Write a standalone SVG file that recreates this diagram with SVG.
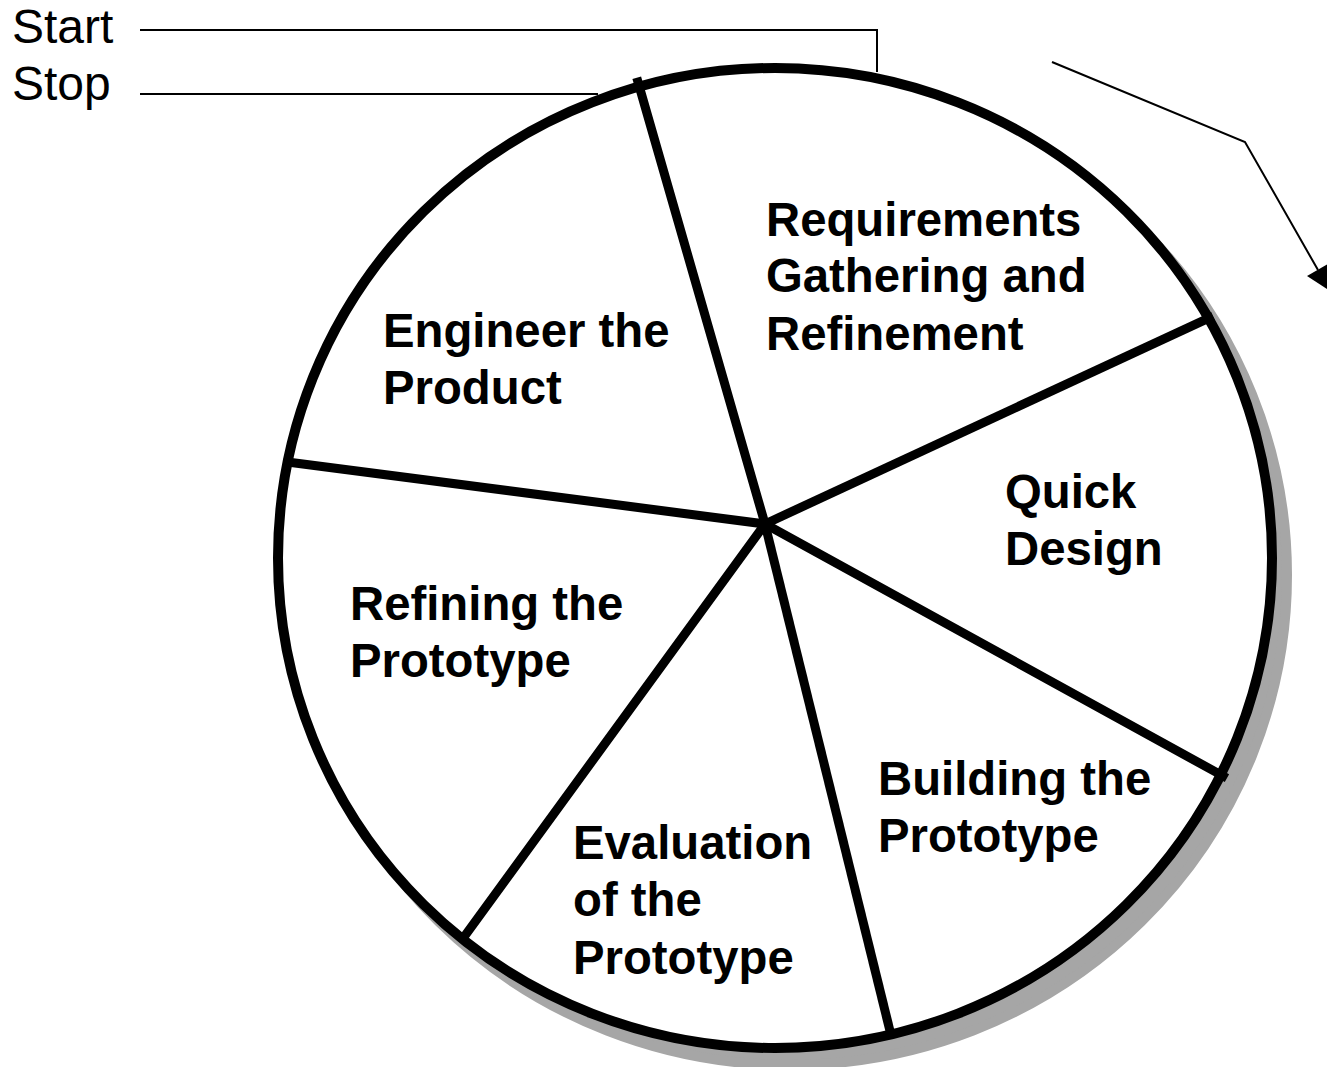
<svg xmlns="http://www.w3.org/2000/svg" width="1327" height="1067" viewBox="0 0 1327 1067">
<defs>
<style>
.lbl{font-family:"Liberation Sans",Arial,sans-serif;font-weight:bold;font-size:47.3px;fill:#000}
.ann{font-family:"Liberation Sans",Arial,sans-serif;font-size:48px;fill:#000}
.thin{fill:none;stroke:#000;stroke-width:2}
.spoke{stroke:#000;stroke-width:9;stroke-linecap:square}
</style>
</defs>
<rect width="1327" height="1067" fill="#fff"/>
<g id="wheel">
<ellipse cx="790" cy="575" rx="497" ry="490" fill="#a6a6a6" stroke="#a6a6a6" stroke-width="10"/>
<ellipse cx="775" cy="558" rx="497" ry="490" fill="#fff" stroke="#000" stroke-width="10"/>
</g>
<g id="connectors">
<line class="spoke" x1="765" y1="524" x2="638" y2="82"/>
<line class="spoke" x1="765" y1="524" x2="1209" y2="318"/>
<line class="spoke" x1="765" y1="524" x2="1223" y2="776"/>
<line class="spoke" x1="765" y1="524" x2="890" y2="1031"/>
<line class="spoke" x1="765" y1="524" x2="464" y2="937"/>
<line class="spoke" x1="765" y1="524" x2="288" y2="462"/>
<polyline class="thin" points="140,30 877,30 877,72"/>
<line class="thin" x1="140" y1="94" x2="598" y2="94"/>
<polyline class="thin" points="1052,62 1245,142 1318,270"/>
<path d="M1307,276 L1328,264 L1330,291 z" fill="#000"/>
</g>
<g id="start"><text class="ann" x="12" y="43">Start</text></g>
<g id="stop"><text class="ann" x="12" y="100">Stop</text></g>
<g id="requirements"><text class="lbl" x="766" y="236">Requirements</text><text class="lbl" x="766" y="292">Gathering and</text><text class="lbl" x="766" y="350">Refinement</text></g>
<g id="engineer"><text class="lbl" x="383" y="347">Engineer the</text><text class="lbl" x="383" y="404">Product</text></g>
<g id="quick"><text class="lbl" x="1005" y="508">Quick</text><text class="lbl" x="1005" y="565">Design</text></g>
<g id="refining"><text class="lbl" x="350" y="620">Refining the</text><text class="lbl" x="350" y="677">Prototype</text></g>
<g id="building"><text class="lbl" x="878" y="795">Building the</text><text class="lbl" x="878" y="852">Prototype</text></g>
<g id="evaluation"><text class="lbl" x="573" y="859">Evaluation</text><text class="lbl" x="573" y="916">of the</text><text class="lbl" x="573" y="974">Prototype</text></g>
</svg>
